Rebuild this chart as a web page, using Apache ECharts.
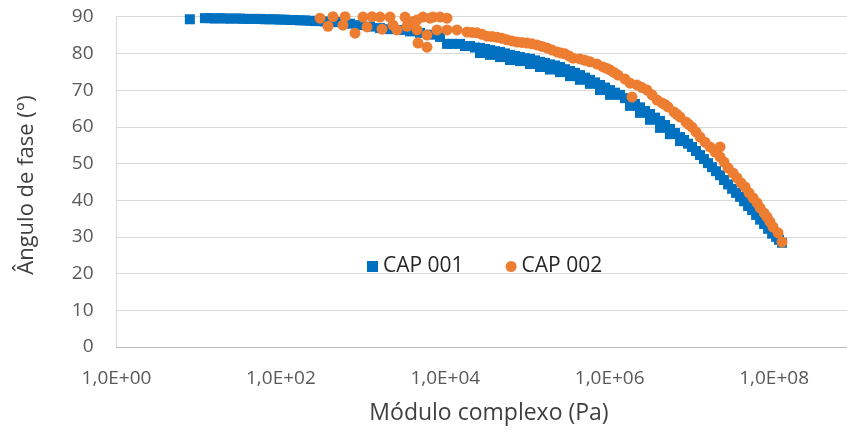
<!DOCTYPE html>
<html>
<head>
<meta charset="utf-8">
<script src="https://cdn.jsdelivr.net/npm/echarts@6/dist/echarts.min.js"></script>
<style>
html,body{margin:0;padding:0;background:#fff;}
#chart{width:847px;height:434px;}
</style>
</head>
<body>
<div id="chart"></div>
<script>
// CAP 001 (blue squares): complex modulus (Pa) and phase angle (deg)
var cap001X = [7.8, 11.9, 13.6, 15.8, 18.2, 21, 24, 28, 32, 36, 42, 48, 56, 64, 73, 84, 97, 111, 128, 147, 170, 196, 225, 258, 297, 340, 392, 450,
  524, 693, 917, 1213, 1606, 2125, 2812, 3722, 4925, 6517, 8623, 10490, 12070, 15100, 17380, 19970, 22970, 26430, 30400, 34970, 40230, 46270,
  53220, 61230, 70430, 81020, 93200, 107200, 123300, 141900, 163200, 187800, 216000, 248500, 285800, 328800, 378200, 435100, 500500, 575800,
  662300, 761900, 876400, 1.008e6, 1.160e6, 1.334e6, 1.535e6, 1.766e6, 2.031e6, 2.336e6, 2.687e6, 3.091e6, 3.556e6, 4.091e6, 4.706e6,
  5.413e6, 6.227e6, 7.163e6, 8.014e6, 8.966e6, 1.003e7, 1.122e7, 1.256e7, 1.405e7, 1.571e7, 1.758e7, 1.967e7, 2.200e7, 2.461e7, 2.754e7,
  3.081e7, 3.447e7, 3.856e7, 4.314e7, 4.826e7, 5.400e7, 6.041e7, 6.758e7, 7.561e7, 8.459e7, 9.463e7, 1.059e8, 1.148e8, 1.249e8,
  26430, 34970, 46270, 61230, 81020, 107200, 141900, 187800, 248500, 328800, 435100, 575800, 761900, 1.008e6, 1.766e6,
  2.336e6, 3.091e6, 4.091e6, 5.413e6, 7.163e6];
var cap001Y = [89.3, 89.6, 89.6, 89.5, 89.6, 89.5, 89.5, 89.5, 89.5, 89.4, 89.4, 89.4, 89.4, 89.3, 89.3, 89.3, 89.2, 89.2, 89.1, 89.1, 89.0, 89.0, 88.9, 88.8, 88.8, 88.7, 88.6, 88.5,
  88.6, 88.1, 87.7, 87.3, 86.9, 86.6, 86.4, 86.0, 85.6, 85.1, 84.5, 82.6, 82.6, 82.6, 82.0, 82.0, 81.6, 81.5, 81.2, 80.9, 80.6, 80.4,
  80.0, 79.6, 79.3, 79.0, 78.7, 78.5, 78.1, 77.7, 77.4, 77.0, 76.7, 76.3, 75.7, 75.2, 74.7, 74.1, 73.4, 72.8,
  72.1, 71.4, 70.7, 70.0, 69.3, 68.7, 67.8, 67.0, 66.2, 65.3, 64.3, 63.5, 62.5, 61.6, 60.5,
  59.4, 58.3, 57.2, 56.4, 55.4, 54.5, 53.4, 52.3, 51.2, 50.1, 49.0, 47.9, 46.8, 45.5, 44.3,
  43.1, 42.0, 40.9, 39.7, 38.4, 37.3, 36.0, 34.7, 33.5, 32.2, 30.9, 30.0, 29.2, 28.4,
  80.1, 79.6, 79.0, 78.2, 77.9, 77.1, 76.3, 75.6, 74.9, 73.8, 72.8, 71.7, 70.0, 68.7, 65.7,
  63.8, 61.9, 59.7, 58.0, 56.1];

// CAP 002 (orange circles)
var cap002X = [299, 374, 430, 603, 569, 797, 997, 1115, 1283, 1606, 1699, 2125, 2311, 2585, 3236, 3422, 3937, 4529, 4529, 4656, 5353, 5985, 5985,
  6517, 7083, 7925, 8623, 10490, 10490, 13870,
  18360, 24310, 32150, 42560, 56330, 74520, 98610, 130500, 172700, 228500, 285800, 358000, 435100, 575800, 701600, 828400, 1.008e6, 1.262e6,
  1.535e6, 1.766e6, 2.149e6, 1.867e6, 2.843e6, 3.271e6, 3.762e6, 4.328e6, 5.118e6, 6.054e6, 7.163e6, 8.473e6, 1.003e7, 1.122e7, 1.256e7,
  1.444e7, 1.661e7, 2.200e7, 2.200e7, 2.461e7, 2.754e7, 3.165e7, 3.541e7, 3.962e7, 4.432e7, 4.958e7, 5.547e7, 6.206e7, 6.758e7, 7.561e7,
  8.209e7, 8.913e7, 9.702e7, 1.117e8, 1.249e8,
  21130, 27990, 36980, 48980, 64730, 85700, 113500, 150000, 198600, 255800, 320200, 500500, 926800, 1.127e6, 2.472e6, 4.699e6,
  6.577e6, 9.204e6, 1.910e7];
var cap002Y = [89.6, 87.4, 90.0, 90.0, 87.7, 85.5, 89.9, 87.2, 90.0, 89.9, 86.6, 89.9, 87.7, 86.4, 89.9, 87.4, 88.6, 89.1, 86.4, 82.8, 89.9, 85.0, 81.7,
  89.6, 89.9, 86.4, 89.9, 89.6, 86.4, 86.4,
  85.8, 85.6, 84.7, 84.4, 83.7, 83.1, 82.8, 82.3, 81.5, 80.4, 79.9, 78.7, 78.5, 77.7, 77.1, 76.3, 75.5, 74.1,
  73.0, 71.9, 71.4, 68.1, 70.0, 68.7, 67.3, 66.5, 65.4, 64.0, 62.7, 61.3, 59.9, 58.6, 57.2,
  55.8, 54.5, 54.5, 51.8, 50.4, 48.8, 47.4, 46.1, 44.7, 43.6, 42.0, 40.6, 39.3, 37.9, 36.5,
  35.4, 34.1, 32.7, 31.1, 28.6,
  85.7, 85.2, 84.6, 84.1, 83.4, 83.0, 82.6, 81.9, 80.9, 80.1, 79.3, 78.1, 75.9, 74.8, 70.7, 66.1,
  63.4, 60.6, 53.1];

var seriesNames = ['CAP 001', 'CAP 002'];
var yTicks = {min: 0, max: 90, interval: 10};
var xRange = {min: 1, max: 1e10};
var xTitle = 'Módulo complexo (Pa)';
var yTitle = 'Ângulo de fase (°)';

function pairs(xs, ys) { return xs.map(function (x, i) { return [x, ys[i]]; }); }

var chart = echarts.init(document.getElementById('chart'), null, {renderer: 'canvas'});
var FONT = '"Open Sans", "Noto Sans", sans-serif';
chart.setOption({
  animation: false,
  backgroundColor: '#ffffff',
  textStyle: {fontFamily: FONT},
  grid: {left: 116.5, top: 16.7, right: -91.5, bottom: 87, containLabel: false, outerBoundsMode: 'none'},
  legend: {
    left: 362, top: 251,
    itemWidth: 11, itemHeight: 11, itemGap: 42, itemTextGap: 7,
    textStyle: {fontSize: 21, color: '#262626', fontFamily: FONT},
    data: [{name: seriesNames[0], icon: 'rect'}, {name: seriesNames[1], icon: 'circle'}]
  },
  xAxis: {
    type: 'log', logBase: 10, min: xRange.min, max: xRange.max, interval: 2,
    axisLine: {show: true, lineStyle: {color: '#BFBFBF', width: 1}},
    axisTick: {show: false},
    splitLine: {show: false},
    axisLabel: {
      color: '#595959', fontSize: 19, margin: 22, fontFamily: FONT, interval: 0,
      hideOverlap: false,
      formatter: function (v) {
        var e = Math.round(Math.log10(v));
        return '1,0E+' + (e < 10 ? '0' : '') + e;
      }
    }
  },
  yAxis: {
    type: 'value', min: yTicks.min, max: yTicks.max, interval: yTicks.interval,
    axisLine: {show: true, lineStyle: {color: '#D9D9D9', width: 1}},
    axisTick: {show: false},
    splitLine: {show: true, lineStyle: {color: '#D9D9D9', width: 1}},
    axisLabel: {color: '#595959', fontSize: 19, margin: 23, fontFamily: FONT}
  },
  graphic: [
    {type: 'text', x: 489, y: 413, style: {text: xTitle, textAlign: 'center', textVerticalAlign: 'middle', font: '23px ' + FONT, fill: '#404040'}},
    {type: 'text', x: 27, y: 185, rotation: Math.PI / 2, style: {text: yTitle, textAlign: 'center', textVerticalAlign: 'middle', font: '22px ' + FONT, fill: '#404040'}}
  ],
  series: [
    {name: seriesNames[0], type: 'scatter', symbol: 'rect', symbolSize: 10, clip: false,
     itemStyle: {color: '#0070C0', opacity: 1}, data: pairs(cap001X, cap001Y)},
    {name: seriesNames[1], type: 'scatter', symbol: 'circle', symbolSize: 11, clip: false,
     itemStyle: {color: '#ED7D31', opacity: 1}, data: pairs(cap002X, cap002Y)}
  ]
});
</script>
</body>
</html>
